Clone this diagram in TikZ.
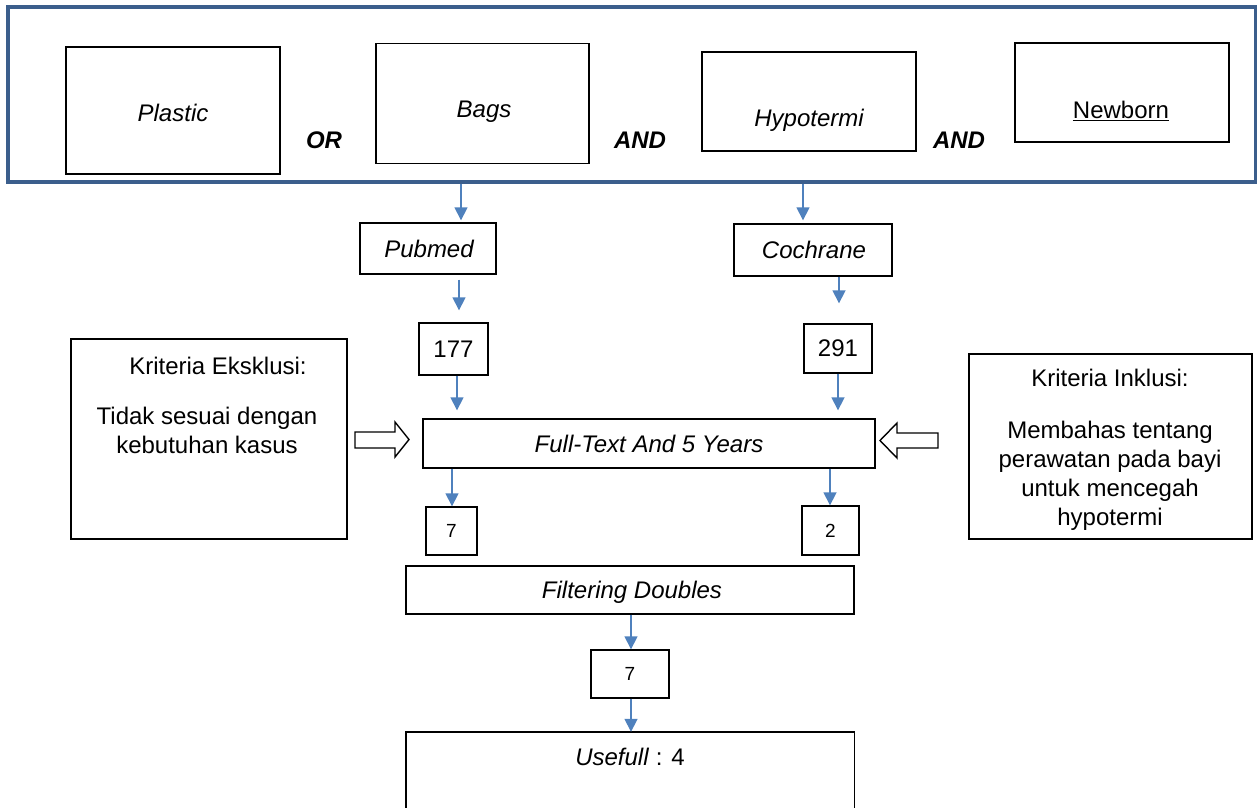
\documentclass[tikz,border=0pt]{standalone}
\usepackage{fontspec}
\setmainfont{Liberation Sans}
\usetikzlibrary{arrows.meta,calc}
\definecolor{framec}{HTML}{3B5E8C}
\definecolor{flowc}{HTML}{4F81BD}
\tikzset{
  box/.style={draw=black, line width=1.4pt, inner sep=0pt},
  txt/.style={inner sep=0pt, align=center, font=\fontsize{24}{29}\selectfont},
  itx/.style={inner sep=0pt, align=center, font=\fontsize{24}{29}\selectfont\itshape},
  btx/.style={inner sep=0pt, align=center, font=\fontsize{24}{29}\selectfont\bfseries\itshape},
  smtx/.style={inner sep=0pt, align=center, font=\fontsize{19}{23}\selectfont},
  flow/.style={draw=flowc, line width=1.6pt, -{Triangle[width=13pt,length=13pt,fill=flowc]}},
  blockarrow/.style={draw=black, line width=1.4pt, fill=white, line join=miter},
  framebox/.style={draw=framec, line width=4pt, inner sep=0pt},
}
\begin{document}
\begin{tikzpicture}[x=1pt,y=-1pt]
\useasboundingbox (0,0) rectangle (1257,807);
\clip (0,0) rectangle (1257,807);

% outer frame
\node[framebox, minimum width=1248, minimum height=175] (frame) at (632,94.5) {};

% keyword boxes
\node[box, minimum width=214, minimum height=127] (plastic) at (173,110.5) {};
\node[box, minimum width=213, minimum height=120] (bags) at (482.5,103.5) {};
\node[box, minimum width=214, minimum height=99] (hypo) at (809,101.5) {};
\node[box, minimum width=214, minimum height=99] (newborn) at (1122,92.5) {};
\node[itx] (tplastic) at (173,113) {Plastic};
\node[itx] (tbags) at (484,112) {Bags};
\node[itx] (thypo) at (809,120) {Hypotermi};
\node[txt] (tnewborn) at (1121,111) {\underline{Newborn}};
\node[btx] (or1) at (324,140) {OR};
\node[btx] (and1) at (640,140) {AND};
\node[btx] (and2) at (959,140) {AND};

% databases
\node[box, minimum width=136, minimum height=51] (pubmed) at (428,248.5) {};
\node[itx] (tpubmed) at (429,249) {Pubmed};
\node[box, minimum width=158, minimum height=52] (cochrane) at (813,250) {};
\node[itx] (tcochrane) at (814,250) {Cochrane};

% counts
\node[box, minimum width=69, minimum height=52, txt] (n177) at (453.5,349) {177};
\node[box, minimum width=68, minimum height=49, txt] (n291) at (838,348.5) {291};

% full text
\node[box, minimum width=452, minimum height=49, itx] (full) at (649,443.5) {Full-Text And 5 Years};

\node[box, minimum width=51, minimum height=48, smtx] (n7a) at (451.5,531) {7};
\node[box, minimum width=57, minimum height=49, smtx] (n2) at (830.5,530.5) {2};

% filtering
\node[box, minimum width=448, minimum height=48] (filter) at (630,590) {};
\node[itx] (tfilter) at (632,592) {Filtering Doubles};
\node[box, minimum width=78, minimum height=48, smtx] (n7b) at (630,674) {7};

% usefull (open at bottom)
\node[inner sep=0pt, minimum width=448, minimum height=100] (usefull) at (630,782) {};
\draw[line width=1.4pt] (usefull.south west) -- (usefull.north west) -- (usefull.north east) -- (usefull.south east);
\node[txt] (tusefull) at (630,757) {\textit{Usefull} : 4};

% criteria boxes
\node[box, minimum width=276, minimum height=200] (eks) at (209,439) {};
\node[txt] (teks1) at (218,366) {Kriteria Eksklusi:};
\node[txt] (teks2) at (207,430) {Tidak sesuai dengan\\kebutuhan kasus};

\node[box, minimum width=283, minimum height=185] (ink) at (1110.5,446.5) {};
\node[txt] (tink1) at (1110,378) {Kriteria Inklusi:};
\node[txt] (tink2) at (1110,476) {Membahas tentang\\perawatan pada bayi\\untuk mencegah\\hypotermi};

% block arrows
\draw[blockarrow] (355,432) -- (395,432) -- (395,422) -- (409,439.5) -- (395,457) -- (395,448) -- (355,448) -- cycle;
\draw[blockarrow] (938,433) -- (897,433) -- (897,423) -- (880,440.5) -- (897,458) -- (897,448) -- (938,448) -- cycle;

% connectors
\coordinate (xa1) at (461,0);
\coordinate (xa2) at (459,0);
\coordinate (xa3) at (457,0);
\coordinate (xc1) at (803,0);
\coordinate (xc2) at (839,0);
\coordinate (xc3) at (838,0);
\coordinate (xf1) at (452,0);
\coordinate (xf2) at (830,0);
\coordinate (xd) at (631,0);

\draw[flow, shorten >=2pt] (frame.south -| xa1) -- (pubmed.north -| xa1);
\draw[flow, shorten <=5pt, shorten >=12pt] (pubmed.south -| xa2) -- (n177.north -| xa2);
\draw[flow, shorten >=8pt] (n177.south -| xa3) -- (full.north -| xa3);
\draw[flow, shorten >=3pt] (frame.south -| xc1) -- (cochrane.north -| xc1);
\draw[flow, shorten >=20pt] (cochrane.south -| xc2) -- (n291.north -| xc2);
\draw[flow, shorten >=8pt] (n291.south -| xc3) -- (full.north -| xc3);
\draw[flow] (full.south -| xf1) -- (n7a.north -| xf1);
\draw[flow] (full.south -| xf2) -- (n2.north -| xf2);
\draw[flow] (filter.south -| xd) -- (n7b.north -| xd);
\draw[flow] (n7b.south -| xd) -- (usefull.north -| xd);
\end{tikzpicture}
\end{document}
